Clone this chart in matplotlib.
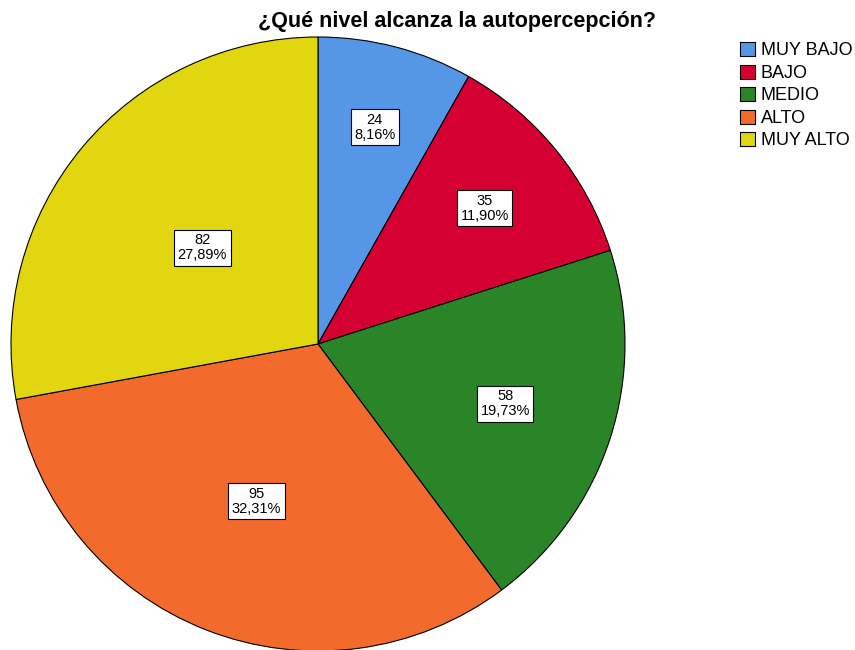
import numpy as np
import matplotlib.pyplot as plt
from matplotlib.patches import Patch

plt.rcParams['font.family'] = ['Liberation Sans', 'DejaVu Sans']

categorias = ['MUY BAJO', 'BAJO', 'MEDIO', 'ALTO', 'MUY ALTO']
frecuencias = [24, 35, 58, 95, 82]
porcentajes = ['8,16%', '11,90%', '19,73%', '32,31%', '27,89%']
colores = ['#5596E6', '#D50032', '#2A8529', '#F26A2C', '#E2D611']
dist_etiqueta = [0.73, 0.70, 0.64, 0.55, 0.49]

fig = plt.figure(figsize=(8.55, 6.5), dpi=100)
cx, cy, r = 318, 344, 307
ax = fig.add_axes([(cx - r) / 855, (650 - cy - r) / 650, 2 * r / 855, 2 * r / 650])
wedges, _ = ax.pie(frecuencias, colors=colores, startangle=90, counterclock=False,
                   wedgeprops=dict(edgecolor='black', linewidth=0.8))
ax.set_xlim(-1, 1)
ax.set_ylim(-1, 1)
ax.set_aspect('equal')
ax.axis('off')

for w, n, p, d in zip(wedges, frecuencias, porcentajes, dist_etiqueta):
    ang = np.deg2rad((w.theta1 + w.theta2) / 2)
    ax.text(d * np.cos(ang), d * np.sin(ang), f'{n}\n{p}', ha='center', va='center',
            fontsize=10.5, linespacing=1.1,
            bbox=dict(boxstyle='square,pad=0.25', facecolor='white', edgecolor='black', linewidth=0.8))

fig.text(457 / 855, 1 - 21 / 650, '¿Qué nivel alcanza la autopercepción?', ha='center', va='center',
         fontsize=15.5, fontweight='bold')

handles = [Patch(facecolor=c, edgecolor='black', linewidth=0.8) for c in colores]
fig.legend(handles, categorias, loc='upper left', bbox_to_anchor=(740 / 855, 1 - 42 / 650),
           frameon=False, fontsize=13, handlelength=0.85, handleheight=0.85, handletextpad=0.3,
           labelspacing=0.28, borderpad=0, borderaxespad=0)

fig.savefig('out.png', dpi=100)
